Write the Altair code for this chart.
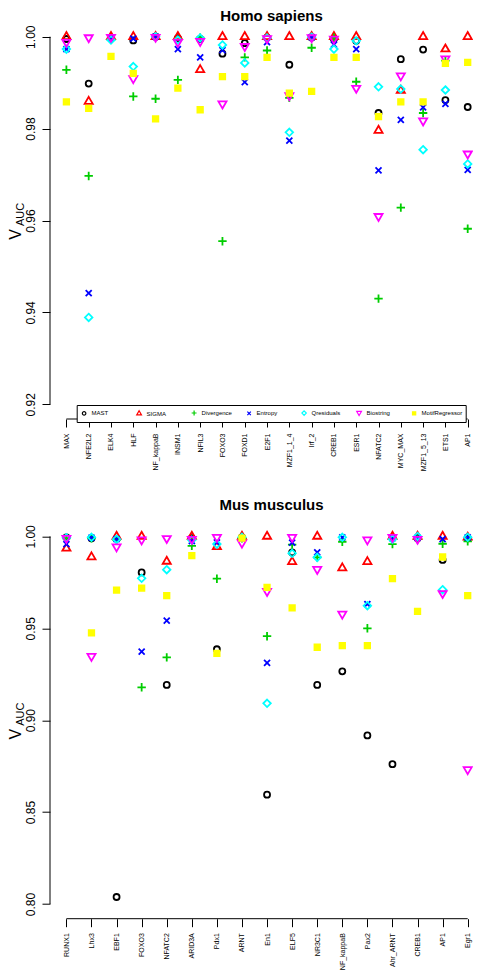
import altair as alt
import pandas as pd

FONT = "Liberation Sans"

methods = ["MAST", "SIGMA", "Divergence", "Entropy", "Qresiduals", "Biostring", "MotifRegressor"]
colors = ["#000000", "#FF0000", "#00CD00", "#0000FF", "#00FFFF", "#FF00FF", "#FFFF00"]
fills = ["transparent", "transparent", "transparent", "transparent", "transparent", "transparent", "#FFFF00"]
shapes = [
    "M0.6,0A0.6,0.6,0,1,1,-0.6,0A0.6,0.6,0,1,1,0.6,0Z",
    "M0,-0.93L0.81,0.47L-0.81,0.47Z",
    "M-0.84,0L0.84,0M0,-0.84L0,0.84",
    "M-0.6,-0.6L0.6,0.6M-0.6,0.6L0.6,-0.6",
    "M0,-0.75L0.75,0L0,0.75L-0.75,0Z",
    "M0,0.93L0.81,-0.47L-0.81,-0.47Z",
    "M-0.55,-0.55L0.55,-0.55L0.55,0.55L-0.55,0.55Z",
]

# ---------------- Homo sapiens ----------------
hs_tf = ["MAX", "NFE2L2", "ELK4", "HLF", "NF_kappaB", "INSM1", "NFIL3", "FOXO3", "FOXD1", "E2F1",
         "MZF1_1_4", "Irf_2", "CREB1", "ESR1", "NFATC2", "MYC_MAX", "MZF1_5_13", "ETS1", "AP1"]
hs_mast = [0.9995, 0.9898, 0.9997, 0.9992, 1.0, 0.9997, 0.9995, 0.9963, 0.9986, 0.9998,
           0.9939, 0.9998, 0.9995, 0.9991, 0.9834, 0.9951, 0.9972, 0.9862, 0.9847]
hs_sigma = [1.0, 0.9859, 1.0, 1.0, 1.0, 1.0, 0.9928, 1.0, 1.0, 1.0,
            1.0, 1.0, 1.0, 1.0, 0.9796, 0.9883, 1.0, 0.9973, 1.0]
hs_div = [0.9928, 0.9697, 0.9993, 0.9870, 0.9865, 0.9906, 0.9998, 0.9555, 0.9955, 0.9970,
          0.9867, 0.9976, 0.9998, 0.9902, 0.9430, 0.9628, 0.9834, 0.9948, 0.9582]
hs_ent = [0.9973, 0.9442, 0.9997, 0.9996, 1.0, 0.9973, 0.9955, 0.9971, 0.9901, 0.9988,
          0.9774, 0.9999, 0.9983, 0.9973, 0.9709, 0.9819, 0.9846, 0.9854, 0.9710]
hs_qres = [0.9973, 0.9389, 0.9993, 0.9935, 1.0, 0.9993, 0.9997, 0.9982, 0.9943, 0.9997,
           0.9792, 0.9999, 0.9973, 0.9991, 0.9891, 0.9886, 0.9754, 0.9884, 0.9723]
hs_bios = [0.9988, 0.9998, 0.9999, 0.9909, 0.9999, 0.9988, 0.9990, 0.9854, 0.9979, 0.9996,
           0.9872, 0.9998, 0.9995, 0.9888, 0.9609, 0.9915, 0.9817, 0.9952, 0.9745]
hs_motif = [0.9858, 0.9844, 0.9957, 0.9920, 0.9821, 0.9888, 0.9841, 0.9913, 0.9913, 0.9955,
            0.9877, 0.9881, 0.9955, 0.9955, 0.9826, 0.9858, 0.9858, 0.9942, 0.9944]
hs_ticks = [0.92, 0.94, 0.96, 0.98, 1.00]

# ---------------- Mus musculus ----------------
mm_tf = ["RUNX1", "Lhx3", "EBF1", "FOXO3", "NFATC2", "ARID3A", "Pdx1", "ARNT", "En1", "ELF5",
         "NR3C1", "NF_kappaB", "Pax2", "Ahr_ARNT", "CREB1", "AP1", "Egr1"]
mm_mast = [0.9995, 0.9990, 0.8038, 0.9804, 0.9192, 0.9990, 0.9386, 0.9995, 0.8595, 0.9913,
           0.9192, 0.9266, 0.8917, 0.8761, 0.9990, 0.9872, 0.9990]
mm_sigma = [0.9935, 0.9888, 1.0, 1.0, 0.9864, 1.0, 0.9944, 1.0, 1.0, 0.9862,
            1.0, 0.9828, 0.9862, 1.0, 1.0, 1.0, 0.9995]
mm_div = [0.9990, 0.9990, 0.9980, 0.9179, 0.9342, 0.9949, 0.9770, 0.9990, 0.9457, 0.9955,
          0.9886, 0.9971, 0.9500, 0.9958, 0.9985, 0.9960, 0.9973]
mm_ent = [0.9958, 0.9993, 0.9985, 0.9373, 0.9542, 0.9975, 0.9968, 0.9990, 0.9312, 0.9966,
          0.9913, 0.9995, 0.9632, 0.9990, 0.9993, 0.9985, 0.9995]
mm_qres = [0.9992, 0.9995, 0.9985, 0.9772, 0.9819, 0.9980, 0.9958, 0.9995, 0.9092, 0.9908,
           0.9886, 0.9995, 0.9623, 0.9985, 1.0, 0.9710, 0.9995]
mm_bios = [0.9990, 0.9348, 0.9944, 0.9982, 0.9989, 0.9985, 0.9995, 0.9964, 0.9701, 0.9995,
           0.9821, 0.9578, 0.9982, 0.9995, 0.9985, 0.9690, 0.8732]
mm_motif = [None, 0.9475, 0.9708, 0.9719, 0.9678, 0.9895, 0.9364, 0.9991, 0.9723, 0.9611,
            0.9397, 0.9406, 0.9406, 0.9770, 0.9592, 0.9888, 0.9678]
mm_ticks = [0.80, 0.85, 0.90, 0.95, 1.00]

W = 423
H = 397


def panel(title, title_y, tfs, series, ydom, yticks, xdom):
    rows = []
    k = 0
    for m, vals in zip(methods, series):
        for i, v in enumerate(vals):
            if v is None:
                continue
            rows.append({"idx": i + 1, "tf": tfs[i], "method": m, "v": v, "ord": k})
            k += 1
    df = pd.DataFrame(rows)

    xs = alt.Scale(domain=xdom, nice=False, zero=False)
    ys = alt.Scale(domain=ydom, nice=False, zero=False)
    label_expr = "[" + ",".join("'%s'" % t for t in tfs) + "][datum.value - 1]"
    xaxis = alt.Axis(values=list(range(1, len(tfs) + 1)), labelExpr=label_expr, domain=False,
                     grid=False, ticks=True, tickSize=8, tickColor="black", tickWidth=1,
                     labelAngle=270, labelAlign="right", labelBaseline="middle", labelPadding=6,
                     labelFontSize=7, labelFont=FONT, labelColor="black", title=None,
                     labelOverlap=False, labelFlush=False, labelBound=False)
    yaxis = alt.Axis(values=yticks, format=".2f", domain=False, grid=False, ticks=True,
                     tickSize=8, tickColor="black", tickWidth=1, labelAngle=270,
                     labelAlign="center", labelBaseline="bottom", labelPadding=5,
                     labelFontSize=12, labelFont=FONT, labelColor="black", title=None,
                     labelOverlap=False, labelFlush=False, labelBound=False)
    leg = alt.Legend(orient="none", legendX=26.7, legendY=383, direction="horizontal",
                     columns=7, gridAlign="all", title=None, labelFont=FONT, labelFontSize=6,
                     labelColor="black", symbolSize=34, symbolStrokeWidth=1.2, padding=3.4,
                     labelOffset=3.5, columnPadding=1, rowPadding=0, strokeColor="black",
                     fillColor="white", labelLimit=80)

    pts = alt.Chart(df).mark_point(size=100, strokeWidth=1.8, opacity=1, clip=True).encode(
        x=alt.X("idx:Q", scale=xs, axis=xaxis),
        y=alt.Y("v:Q", scale=ys, axis=yaxis),
        shape=alt.Shape("method:N", scale=alt.Scale(domain=methods, range=shapes), legend=leg),
        stroke=alt.Stroke("method:N", scale=alt.Scale(domain=methods, range=colors), legend=leg),
        fill=alt.Fill("method:N", scale=alt.Scale(domain=methods, range=fills), legend=leg),
        order=alt.Order("ord:Q"),
    )
    yline = alt.Chart(pd.DataFrame({"a": [yticks[0]], "b": [yticks[-1]]})).mark_rule(
        color="black", strokeWidth=1).encode(
        y=alt.Y("a:Q", scale=ys, axis=yaxis), y2="b:Q", x=alt.value(0))
    xline = alt.Chart(pd.DataFrame({"a": [1], "b": [len(tfs)]})).mark_rule(
        color="black", strokeWidth=1).encode(
        x=alt.X("a:Q", scale=xs, axis=xaxis), x2="b:Q", y=alt.value(H))
    vtxt = alt.Chart(pd.DataFrame({"t": ["V"]})).mark_text(
        angle=270, font=FONT, fontSize=16, align="center", baseline="alphabetic", color="black").encode(
        text="t:N", x=alt.value(-29), y=alt.value(H / 2 + 14))
    atxt = alt.Chart(pd.DataFrame({"t": ["AUC"]})).mark_text(
        angle=270, font=FONT, fontSize=11, align="center", baseline="alphabetic", color="black").encode(
        text="t:N", x=alt.value(-26), y=alt.value(H / 2 - 6))
    ttxt = alt.Chart(pd.DataFrame({"t": [title]})).mark_text(
        font=FONT, fontSize=15, fontWeight="bold", align="center", baseline="alphabetic",
        color="black").encode(
        text="t:N", x=alt.value(W / 2 + 10), y=alt.value(title_y))

    return alt.layer(yline, xline, pts, vtxt, atxt, ttxt).properties(width=W, height=H)


top = panel("Homo sapiens", -1.4, hs_tf,
            [hs_mast, hs_sigma, hs_div, hs_ent, hs_qres, hs_bios, hs_motif],
            [0.9168, 1.0032], hs_ticks, [0.2644, 19.238])
bot = panel("Mus musculus", -12, mm_tf,
            [mm_mast, mm_sigma, mm_div, mm_ent, mm_qres, mm_bios, mm_motif],
            [0.792, 1.008], mm_ticks, [0.346, 17.211])

chart = alt.vconcat(top, bot, spacing=102.7, bounds="flush").properties(
    padding={"left": 0, "top": 0, "right": 0, "bottom": 0}
).configure_view(stroke=None).configure_legend(strokeWidth=1)

chart.save("out.html", embed_options={"renderer": "svg", "actions": False})
